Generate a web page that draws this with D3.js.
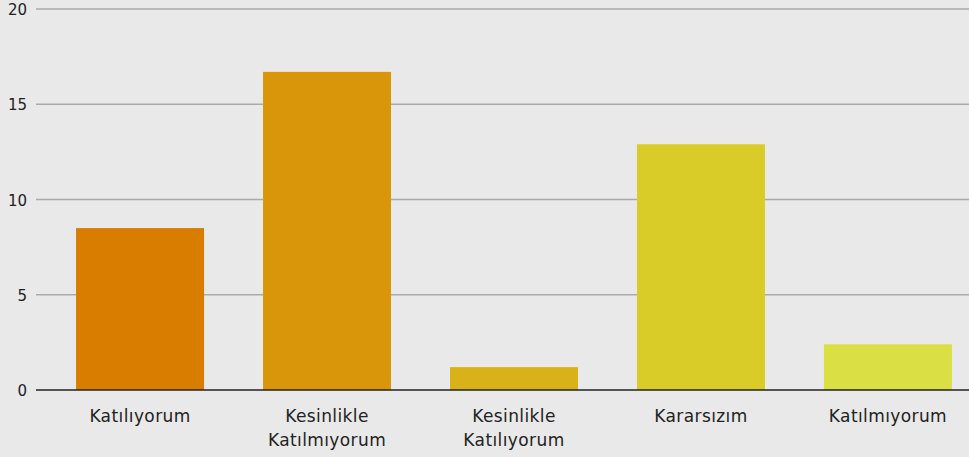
<!DOCTYPE html>
<html>
<head>
<meta charset="utf-8">
<script src="https://cdn.jsdelivr.net/npm/d3@7"></script>
<style>
  body { margin: 0; background: #e8e9e8; }
  svg { display: block; font-family: "DejaVu Sans", "Noto Sans", sans-serif; }
</style>
</head>
<body>
<div id="chart"></div>
<script>
// answers and counts
const categories = ["Katılıyorum", "Kesinlikle Katılmıyorum", "Kesinlikle Katılıyorum", "Kararsızım", "Katılmıyorum"];
const values = [8.5, 16.7, 1.2, 12.9, 2.4];
const colors = ["#d97d00", "#d9960b", "#d9b21a", "#d9cb28", "#dae043"];
const yTicks = [0, 5, 10, 15, 20];

const width = 969, height = 457;
const gridLeft = 36, gridRight = 969;
const yTop = 9, yBottom = 390;

const svg = d3.select("#chart").append("svg")
    .attr("width", width)
    .attr("height", height);

svg.append("rect")
    .attr("width", width).attr("height", height)
    .attr("fill", "#e8e9e8");

const x = d3.scaleBand()
    .domain(categories)
    .range([46.5, 981.5])
    .paddingInner(0.3155)
    .paddingOuter(0.158);

const y = d3.scaleLinear().domain([0, 20]).range([yBottom, yTop]);

// gridlines
svg.append("g")
  .selectAll("line")
  .data(yTicks.filter(d => d !== 0))
  .enter().append("line")
    .attr("x1", gridLeft).attr("x2", gridRight)
    .attr("y1", d => y(d)).attr("y2", d => y(d))
    .attr("stroke", "#a9abab")
    .attr("stroke-width", 1.3);

// y labels
svg.append("g")
  .selectAll("text")
  .data(yTicks)
  .enter().append("text")
    .attr("x", 27)
    .attr("y", d => y(d))
    .attr("dy", "0.4em")
    .attr("text-anchor", "end")
    .attr("font-size", 15)
    .attr("fill", "#222")
    .text(d => d);

// bars
svg.append("g")
  .selectAll("rect")
  .data(values)
  .enter().append("rect")
    .attr("x", (d, i) => x(categories[i]))
    .attr("width", x.bandwidth())
    .attr("y", d => y(d))
    .attr("height", d => y(0) - y(d))
    .attr("fill", (d, i) => colors[i]);

// baseline
svg.append("line")
    .attr("x1", gridLeft).attr("x2", gridRight)
    .attr("y1", y(0)).attr("y2", y(0))
    .attr("stroke", "#222")
    .attr("stroke-width", 1.3);

// category labels, wrapped on the space
const lbl = svg.append("g")
  .selectAll("text")
  .data(categories)
  .enter().append("text")
    .attr("x", d => x(d) + x.bandwidth() / 2)
    .attr("y", 422)
    .attr("text-anchor", "middle")
    .attr("font-size", 17)
    .attr("letter-spacing", 0.4)
    .attr("fill", "#222");

lbl.each(function(d) {
    const words = d.split(" ");
    const t = d3.select(this);
    words.forEach((w, i) => {
        t.append("tspan")
            .attr("x", x(d) + x.bandwidth() / 2)
            .attr("dy", i === 0 ? 0 : 24)
            .text(w);
    });
});
</script>
</body>
</html>
